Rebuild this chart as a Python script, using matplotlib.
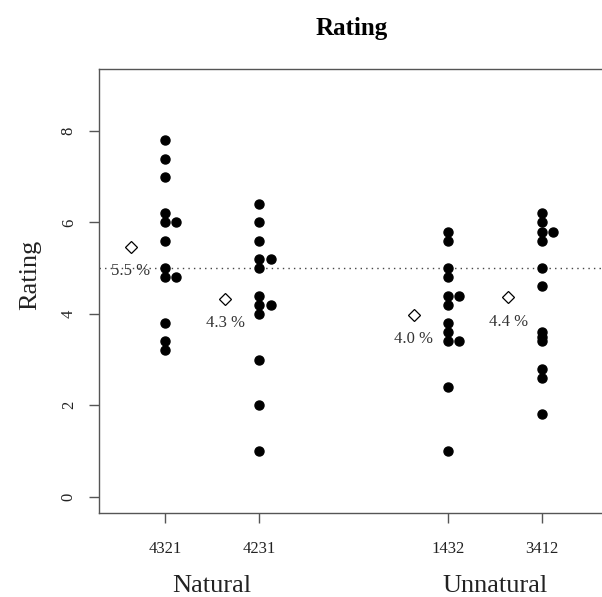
import matplotlib
matplotlib.use("Agg")
import matplotlib.pyplot as plt
import matplotlib.transforms as mtransforms
import numpy as np

plt.rcParams['font.family'] = ['Liberation Serif', 'DejaVu Serif']

orders = ["4321", "4231", "1432", "3412"]
groups = ["Natural", "Unnatural"]
positions = [1, 2, 4, 5]

r_4321 = [7.8, 7.4, 7.0, 6.2, 6.0, 6.0, 5.6, 5.0, 4.8, 4.8, 3.8, 3.4, 3.2]
r_4231 = [6.4, 6.0, 5.6, 5.2, 5.2, 5.0, 4.4, 4.2, 4.2, 4.0, 3.0, 2.0, 1.0]
r_1432 = [5.8, 5.6, 5.0, 4.8, 4.4, 4.4, 4.2, 3.8, 3.6, 3.4, 3.4, 2.4, 1.0]
r_3412 = [6.2, 6.0, 5.8, 5.8, 5.6, 5.0, 4.6, 3.6, 3.5, 3.4, 2.8, 2.6, 1.8]
ratings = [r_4321, r_4231, r_1432, r_3412]
reference_line = 5

W, H = 602, 597
fig = plt.figure(figsize=(W / 100, H / 100), dpi=100)
ax = fig.add_axes([99 / W, 1 - 513 / H, (608 - 99) / W, (513 - 69) / H])

gray = "#555555"
txt = "#222222"

for pos, vals in zip(positions, ratings):
    vals = np.array(vals)
    xs = []
    seen = {}
    for v in vals:
        k = seen.get(round(v, 2), 0)
        seen[round(v, 2)] = k + 1
        xs.append(pos + 0.12 * k)
    ax.plot(xs, vals, 'o', color='black', ms=6.5, mec='black', zorder=3)
    m = vals.mean()
    ax.plot([pos - 0.36], [m], 'D', ms=6.3, mfc='white', mec='black', mew=0.9, zorder=3)
    ax.text(pos - 0.36, m - 0.53, f"{m:.1f} %", ha='center', va='center',
            fontsize=12, color="#333333", zorder=2)

ax.axhline(reference_line, color="#444444", lw=1, ls=(0, (1, 3)), zorder=1)

ax.set_xlim(0.3, 5.7)
ax.set_ylim(-0.36, 9.36)
ax.set_yticks([0, 2, 4, 6, 8])
ax.set_xticks(positions)
ax.set_xticklabels(orders)
ax.tick_params(axis='both', length=7, width=1, color=gray, labelsize=12,
               labelcolor=txt)
ax.tick_params(axis='x', pad=13)
ax.tick_params(axis='y', pad=9)
for lab in ax.get_yticklabels():
    lab.set_rotation(90)
    lab.set_va('center')
for sp in ax.spines.values():
    sp.set_color(gray)
    sp.set_linewidth(1)

trans = mtransforms.blended_transform_factory(ax.transData, fig.transFigure)
ax.text(1.5, 1 - 586 / H, groups[0], transform=trans, ha='center', va='center',
        fontsize=19, color=txt)
ax.text(4.5, 1 - 586 / H, groups[1], transform=trans, ha='center', va='center',
        fontsize=19, color=txt)

fig.text(30 / W, 1 - 275 / H, "Rating", rotation=90, ha='center', va='center',
         fontsize=19, color=txt)
fig.text(352 / W, 1 - 29 / H, "Rating", ha='center', va='center',
         fontsize=18, fontweight='bold', color='black')

fig.savefig("out.png", dpi=100)
